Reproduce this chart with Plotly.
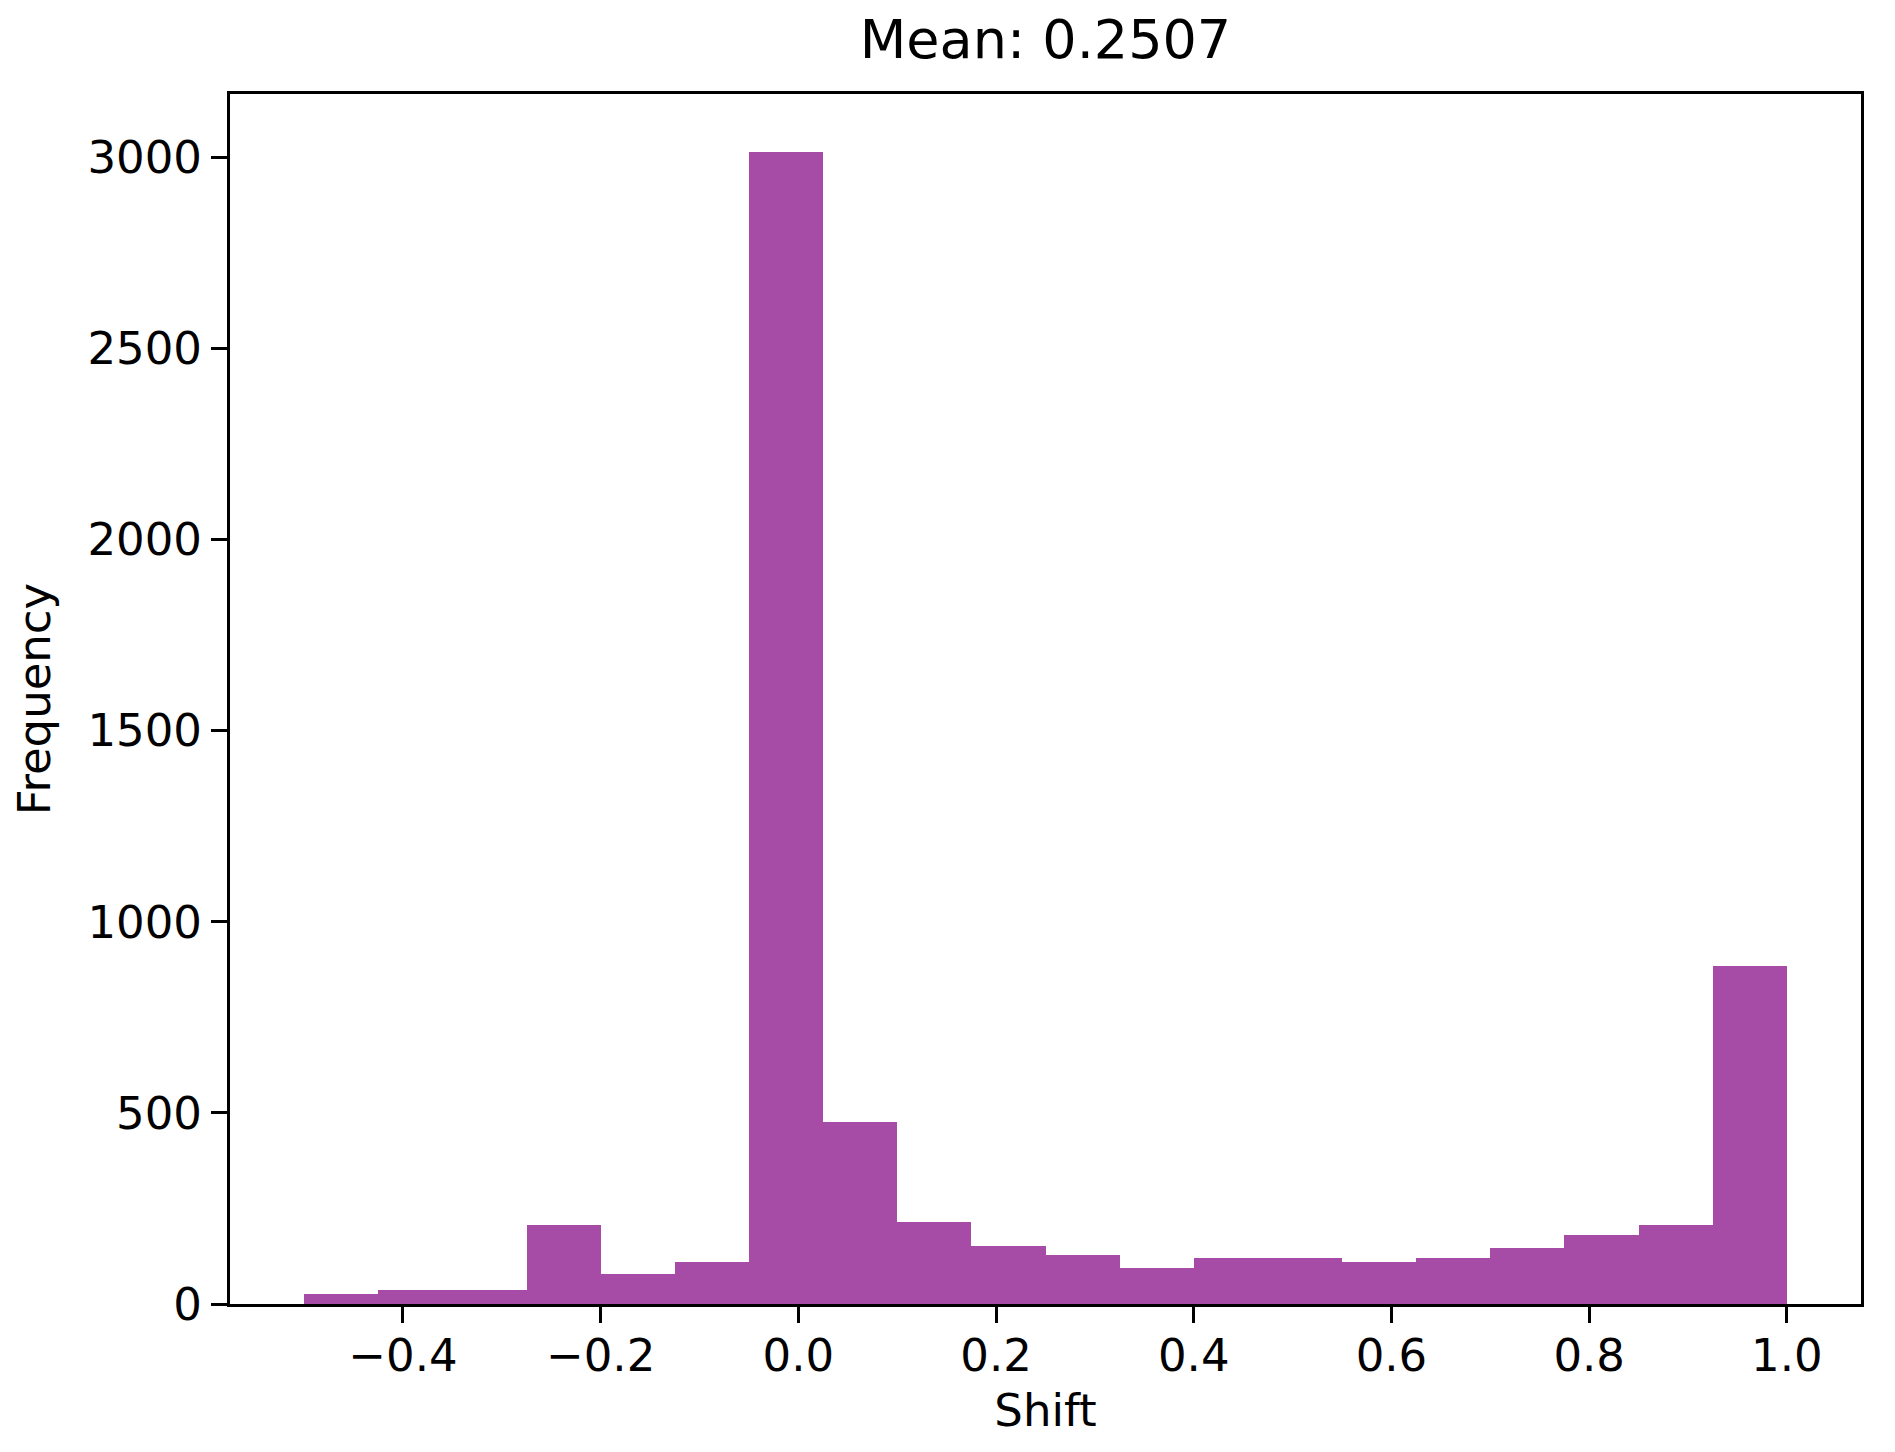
import plotly.graph_objects as go

# Histogram of shifts: 20 bins from -0.5 to 1.0 (width 0.075)
bin_edges = [-0.5, -0.425, -0.35, -0.275, -0.2, -0.125, -0.05, 0.025, 0.1, 0.175,
             0.25, 0.325, 0.4, 0.475, 0.55, 0.625, 0.7, 0.775, 0.85, 0.925, 1.0]
counts = [26, 36, 36, 207, 78, 111, 3015, 476, 215, 153,
          129, 94, 120, 120, 110, 120, 146, 180, 207, 885]
x_ticks = [-0.4, -0.2, 0.0, 0.2, 0.4, 0.6, 0.8, 1.0]
y_ticks = [0, 500, 1000, 1500, 2000, 2500, 3000]
mean_shift = 0.2507

# Bin centres and widths
centers = [(bin_edges[i] + bin_edges[i + 1]) / 2 for i in range(len(counts))]
widths = [bin_edges[i + 1] - bin_edges[i] for i in range(len(counts))]

font = "DejaVu Sans"

fig = go.Figure(
    data=[go.Bar(
        x=centers,
        y=counts,
        width=widths,
        marker=dict(color="rgba(128,0,128,0.7)", line=dict(width=0)),
        hovertemplate="%{x}: %{y}<extra></extra>"
    )],
    layout=go.Layout(
        width=1895,
        height=1452,
        margin=dict(l=222, r=42, t=86, b=156),
        paper_bgcolor="white",
        plot_bgcolor="white",
        bargap=0,
        showlegend=False,
        font=dict(family=font, size=45, color="black"),
        title=dict(
            text="Mean: %.4f" % mean_shift,
            font=dict(family=font, size=54, color="black"),
            x=0.5, xref="paper", xanchor="center",
            y=1 - 31 / 1452, yref="container", yanchor="middle"
        ),
        xaxis=dict(
            range=[-0.575, 1.075],
            tickmode="array",
            tickvals=x_ticks,
            ticktext=["%.1f" % v if v >= 0 else "\u2212%.1f" % -v for v in x_ticks],
            ticks="outside", ticklen=16, tickwidth=3, tickcolor="black",
            ticklabelstandoff=-6,
            showline=True, linewidth=3, linecolor="black", mirror=True,
            showgrid=False, zeroline=False,
            tickfont=dict(family=font, size=45, color="black"),
            title=dict(text="Shift", standoff=14,
                       font=dict(family=font, size=45, color="black"))
        ),
        yaxis=dict(
            range=[0, 3015 * 1.05],
            tickmode="array",
            tickvals=y_ticks,
            ticks="outside", ticklen=16, tickwidth=3, tickcolor="black",
            showline=True, linewidth=3, linecolor="black", mirror=True,
            showgrid=False, zeroline=False,
            tickfont=dict(family=font, size=45, color="black"),
            title=dict(text="Frequency", standoff=30,
                       font=dict(family=font, size=45, color="black"))
        )
    )
)

fig.write_html("out.html")
